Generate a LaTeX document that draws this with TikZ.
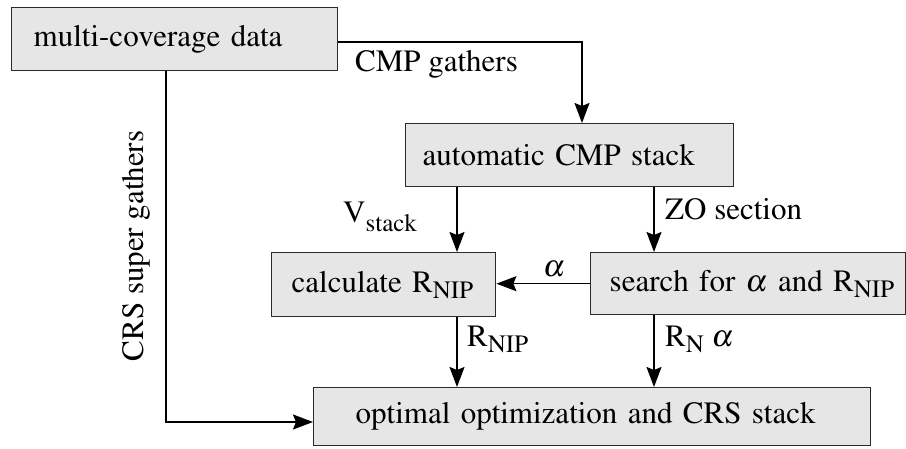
\documentclass[tikz,border=0pt]{standalone}
\usepackage[T1]{fontenc}
\usepackage{mathptmx}
\usetikzlibrary{arrows.meta}
\definecolor{boxfill}{HTML}{E6E6E6}
\definecolor{boxline}{HTML}{2A2A2A}
\newcommand\lowsub[2][6pt]{\raisebox{-#1}{\fontsize{25}{30}\selectfont #2}}
\newcommand\alp{$\alpha$}
\begin{document}
\begin{tikzpicture}[x=1pt,y=-1pt,
  boxnode/.style={draw=boxline, fill=boxfill, line width=1.4pt, inner ysep=0pt, align=left, anchor=north west, font=\fontsize{31}{37}\selectfont},
  conn/.style={line width=1.5pt, -{Stealth[length=20pt,width=15pt,inset=3pt]}},
  lbl/.style={inner sep=0pt, font=\fontsize{31}{37}\selectfont}]
\useasboundingbox (0,0) rectangle (906,449);
\node[boxnode, inner xsep=22pt, text width=282pt, minimum height=63pt] (data) at (11,7) {\mbox{multi-coverage data}};
\node[boxnode, inner xsep=17pt, text width=294pt, minimum height=63pt] (cmp) at (405,123) {\mbox{automatic CMP stack}};
\node[boxnode, inner xsep=20pt, text width=184pt, minimum height=64pt] (calc) at (271,252) {\mbox{calculate R\lowsub{NIP}}};
\node[boxnode, inner xsep=19pt, text width=277pt, minimum height=62pt] (search) at (590,252) {\mbox{search for \alp{} and R\lowsub{NIP}}};
\node[boxnode, inner xsep=42pt, text width=473pt, minimum height=58pt] (opt) at (313,387) {\mbox{optimal optimization and CRS stack}};

\coordinate (turn) at (582,42);
\coordinate (colA) at (457,0);
\coordinate (colB) at (654,0);
\coordinate (crs) at (166,422);

\draw[conn] (data.east |- turn) -- (turn) -- (cmp.north -| turn);
\draw[conn] (cmp.south -| colA) -- (calc.north -| colA);
\draw[conn] (cmp.south -| colB) -- (search.north -| colB);
\draw[conn] (search.west) -- (calc.east |- search.west);
\draw[conn] (calc.south -| colA) -- (opt.north -| colA);
\draw[conn] (search.south -| colB) -- (opt.north -| colB);
\draw[conn] (data.south -| crs) -- (crs) -- (opt.west |- crs);

\node[lbl, anchor=base west] (lcmp) at (355,72) {CMP gathers};
\node[lbl, anchor=base west] (lvst) at (343,223) {V\lowsub[9pt]{stack}};
\node[lbl, anchor=base west] (lzo) at (665,220) {ZO section};
\node[lbl, anchor=base west] (lal) at (543,277) {\alp};
\node[lbl, anchor=base west] (lrnip) at (467,347) {R\lowsub{NIP}};
\node[lbl, anchor=base west] (lrn) at (665,347) {R\lowsub{N} \alp};
\node[lbl, rotate=90, anchor=base] (lcrs) at (143,246) {CRS super gathers};
\end{tikzpicture}
\end{document}
